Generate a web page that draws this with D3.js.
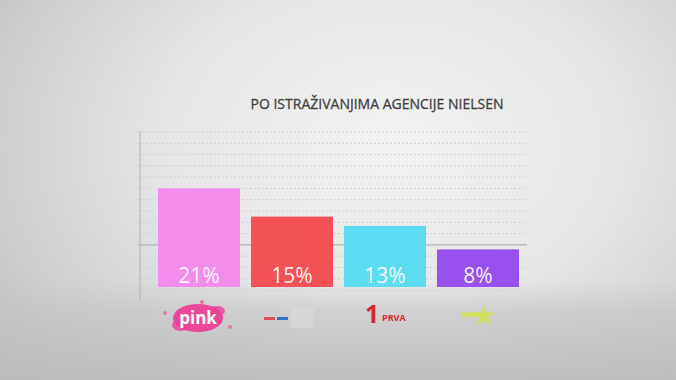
<!DOCTYPE html>
<html>
<head>
<meta charset="utf-8">
<script src="https://cdn.jsdelivr.net/npm/d3@7"></script>
<style>
  html, body { margin: 0; padding: 0; overflow: hidden; }
  svg { display: block; }
</style>
</head>
<body>
<svg width="676" height="380"></svg>
<script>
// data
const channels = ['Pink', 'RTS', 'Prva', 'B92'];
const shares = [21, 15, 13, 8];
const barColors = ['#f48cee', '#f25254', '#5ddbf0', '#9651ee'];
const gridTicks = [0, 1, 2, 3, 4, 5, 6, 7, 8, 9, 10, 11, 12, 13, 14];
const solidTick = 4;
const title = 'PO ISTRAŽIVANJIMA AGENCIJE NIELSEN';

const svg = d3.select('svg');
const W = 676, H = 380;

// background vignette
const defs = svg.append('defs');
const rg = defs.append('radialGradient')
  .attr('id', 'bg')
  .attr('cx', 0.58).attr('cy', 0.38).attr('r', 0.75)
  .attr('gradientTransform', 'translate(0.58,0.38) scale(1,1.3) translate(-0.58,-0.38)');
rg.append('stop').attr('offset', '0%').attr('stop-color', '#f3f3f3');
rg.append('stop').attr('offset', '45%').attr('stop-color', '#e6e6e6');
rg.append('stop').attr('offset', '80%').attr('stop-color', '#cdcdcd');
rg.append('stop').attr('offset', '100%').attr('stop-color', '#bababa');
svg.append('rect').attr('width', W).attr('height', H).attr('fill', 'url(#bg)');

const floor = defs.append('linearGradient')
  .attr('id', 'floor').attr('x1', 0).attr('y1', 0).attr('x2', 0).attr('y2', 1);
floor.append('stop').attr('offset', '0%').attr('stop-color', '#c8c8c8').attr('stop-opacity', 0);
floor.append('stop').attr('offset', '30%').attr('stop-color', '#c4c4c4').attr('stop-opacity', 0.6);
floor.append('stop').attr('offset', '100%').attr('stop-color', '#bcbcbc').attr('stop-opacity', 0.9);
svg.append('rect').attr('x', 0).attr('y', 280).attr('width', W).attr('height', 100)
  .attr('fill', 'url(#floor)');

// scales
const x = d3.scaleBand()
  .domain(channels)
  .range([158, 519])
  .paddingInner(0.118)
  .paddingOuter(0);
const y = d3.scaleLinear().domain([0, 33]).range([287, 132]);
const gy = d3.scaleLinear().domain([0, 14]).range([290, 132]);

// title
svg.append('text')
  .attr('x', 377).attr('y', 109)
  .attr('text-anchor', 'middle')
  .attr('font-family', 'Open Sans')
  .attr('font-size', 15)
  .attr('fill', '#3e3e3e')
  .attr('stroke', '#3e3e3e').attr('stroke-width', 0.3)
  .attr('textLength', 253)
  .attr('lengthAdjust', 'spacingAndGlyphs')
  .text(title);

// grid
svg.append('g')
  .selectAll('line')
  .data(gridTicks)
  .join('line')
  .attr('x1', 138).attr('x2', 527)
  .attr('y1', d => gy(d)).attr('y2', d => gy(d))
  .attr('stroke', d => d === solidTick ? '#b4b4b4' : '#cfcfcf')
  .attr('stroke-width', d => d === solidTick ? 1.2 : 1)
  .attr('stroke-dasharray', d => d === solidTick ? null : '2,2');

svg.append('line')
  .attr('x1', 140).attr('x2', 140)
  .attr('y1', 131).attr('y2', 300)
  .attr('stroke', '#b0b0b0')
  .attr('stroke-width', 1);

// bars
svg.append('g')
  .selectAll('rect')
  .data(channels)
  .join('rect')
  .attr('x', d => x(d))
  .attr('width', x.bandwidth())
  .attr('y', (d, i) => y(shares[i]))
  .attr('height', (d, i) => y(0) - y(shares[i]))
  .attr('fill', (d, i) => barColors[i]);

// labels
svg.append('g')
  .selectAll('text')
  .data(channels)
  .join('text')
  .attr('x', d => x(d) + x.bandwidth() / 2)
  .attr('y', 283)
  .attr('text-anchor', 'middle')
  .attr('font-family', 'Open Sans')
  .attr('font-size', 21)
  .attr('fill', '#ffffff')
  .attr('fill-opacity', 0.92)
  .text((d, i) => shares[i] + '%');

// logos under the bars
const cx = d => x(d) + x.bandwidth() / 2;

// pink
const pk = svg.append('g').attr('transform', `translate(${cx('Pink') - 1},318)`);
pk.append('ellipse').attr('rx', 25).attr('ry', 14).attr('fill', '#ee3f97').attr('opacity', 0.95);
pk.append('ellipse').attr('cx', -17).attr('cy', 7).attr('rx', 9).attr('ry', 6).attr('fill', '#ee3f97').attr('opacity', 0.8);
pk.append('ellipse').attr('cx', 19).attr('cy', -7).attr('rx', 8).attr('ry', 5).attr('fill', '#ee3f97').attr('opacity', 0.8);
pk.append('circle').attr('cx', -33).attr('cy', -5).attr('r', 2).attr('fill', '#ee3f97').attr('opacity', 0.6);
pk.append('circle').attr('cx', 32).attr('cy', 9).attr('r', 2).attr('fill', '#ee3f97').attr('opacity', 0.6);
pk.append('circle').attr('cx', 4).attr('cy', -16).attr('r', 2).attr('fill', '#ee3f97').attr('opacity', 0.6);
pk.append('text')
  .attr('y', 6).attr('text-anchor', 'middle')
  .attr('font-family', 'Open Sans').attr('font-weight', 'bold')
  .attr('font-size', 17).attr('fill', '#fff')
  .text('pink');

// RTS
const rts = svg.append('g').attr('transform', `translate(${cx('RTS')},318)`);
rts.append('rect').attr('x', -2).attr('y', -10).attr('width', 24).attr('height', 20)
  .attr('fill', '#dedede').attr('opacity', 0.5);
rts.append('rect').attr('x', -28).attr('y', -1).attr('width', 11).attr('height', 3).attr('fill', '#e0505a');
rts.append('rect').attr('x', -15).attr('y', -1).attr('width', 11).attr('height', 3).attr('fill', '#3a6fc9');

// Prva
const pr = svg.append('g').attr('transform', `translate(${cx('Prva') - 6},318)`);
pr.append('text')
  .attr('x', -14).attr('y', 5)
  .attr('font-family', 'Open Sans').attr('font-weight', 'bold')
  .attr('font-size', 25).attr('fill', '#d9252c')
  .text('1');
pr.append('text')
  .attr('x', 3).attr('y', 3)
  .attr('font-family', 'Open Sans').attr('font-weight', 'bold')
  .attr('font-size', 9).attr('fill', '#d9252c')
  .text('PRVA');

// B92-ish star
const st = svg.append('g').attr('transform', `translate(${cx('B92') + 2},315)`);
st.append('rect').attr('x', -18).attr('y', -3).attr('width', 18).attr('height', 5)
  .attr('fill', '#d4e35a').attr('opacity', 0.85);
st.append('path')
  .attr('d', d3.symbol().type(d3.symbolStar).size(150)())
  .attr('transform', 'translate(4,1)')
  .attr('fill', '#cfe24e').attr('opacity', 0.85);
</script>
</body>
</html>
